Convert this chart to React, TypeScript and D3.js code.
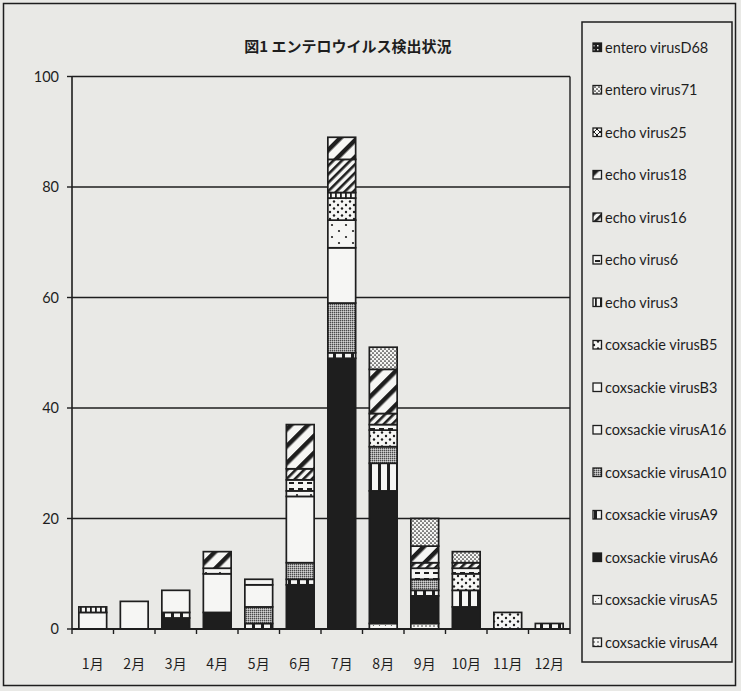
import React from "react";
import * as d3 from "d3";

// 月
const months = ["1月", "2月", "3月", "4月", "5月", "6月", "7月", "8月", "9月", "10月", "11月", "12月"];

// 積み上げ順 (下から)
const seriesNames = [
  "coxsackie virusA4",
  "coxsackie virusA5",
  "coxsackie virusA6",
  "coxsackie virusA9",
  "coxsackie virusA10",
  "coxsackie virusA16",
  "coxsackie virusB3",
  "coxsackie virusB5",
  "echo virus3",
  "echo virus6",
  "echo virus16",
  "echo virus18",
  "echo virus25",
  "entero virus71",
  "entero virusD68",
];

const coxA4 = [0, 0, 0, 0, 0, 0, 0, 0, 1, 0, 0, 0];
const coxA5 = [0, 0, 0, 0, 0, 0, 0, 1, 0, 0, 0, 0];
const coxA6 = [0, 0, 2, 3, 0, 8, 49, 24, 5, 4, 0, 0];
const coxA9 = [0, 0, 1, 0, 1, 1, 1, 5, 1, 3, 0, 1];
const coxA10 = [0, 0, 0, 0, 3, 3, 9, 3, 2, 0, 0, 0];
const coxA16 = [3, 5, 4, 7, 4, 12, 10, 0, 0, 0, 0, 0];
const coxB3 = [0, 0, 0, 1, 0, 1, 5, 0, 0, 0, 0, 0];
const coxB5 = [0, 0, 0, 0, 0, 0, 4, 3, 0, 3, 3, 0];
const echo3 = [1, 0, 0, 0, 0, 0, 1, 0, 0, 0, 0, 0];
const echo6 = [0, 0, 0, 0, 1, 2, 0, 1, 2, 1, 0, 0];
const echo16 = [0, 0, 0, 0, 0, 2, 6, 2, 1, 1, 0, 0];
const echo18 = [0, 0, 0, 3, 0, 8, 4, 8, 3, 0, 0, 0];
const echo25 = [0, 0, 0, 0, 0, 0, 0, 0, 0, 0, 0, 0];
const ev71 = [0, 0, 0, 0, 0, 0, 0, 4, 5, 2, 0, 0];
const evD68 = [0, 0, 0, 0, 0, 0, 0, 0, 0, 0, 0, 0];

const seriesValues = [coxA4, coxA5, coxA6, coxA9, coxA10, coxA16, coxB3, coxB5, echo3, echo6, echo16, echo18, echo25, ev71, evD68];

const yTicks = [0, 20, 40, 60, 80, 100];

const ink = "#1e1e1e";
const paper = "#f6f6f4";
const bg = "#e9e9e6";

// パターン (系列ごと)
function patternFor(i: number) {
  const id = `pat${i}`;
  const base = (w: number, h: number, children: React.ReactNode, rot?: number) => (
    <pattern
      key={id}
      id={id}
      patternUnits="userSpaceOnUse"
      width={w}
      height={h}
      patternTransform={rot ? `rotate(${rot})` : undefined}
    >
      {children}
    </pattern>
  );
  switch (i) {
    case 0:
      return base(4, 4, <>
        <rect width={4} height={4} fill={paper} />
        <circle cx={2} cy={2} r={0.75} fill={ink} />
      </>);
    case 1:
      return base(6, 6, <>
        <rect width={6} height={6} fill={paper} />
        <circle cx={1.5} cy={1.5} r={0.6} fill="#555" />
        <circle cx={4.5} cy={4.5} r={0.6} fill="#555" />
      </>);
    case 2:
      return base(4, 4, <rect width={4} height={4} fill={ink} />);
    case 3:
      return base(9, 10, <>
        <rect width={9} height={10} fill={paper} />
        <rect x={0} width={3} height={10} fill={ink} />
      </>);
    case 4:
      return base(2, 2, <>
        <rect width={2} height={2} fill="#a2a2a2" />
        <rect width={1} height={1} fill="#4a4a4a" />
        <rect x={1} y={1} width={1} height={1} fill="#d2d2d2" />
      </>);
    case 5:
      return base(4, 4, <rect width={4} height={4} fill={paper} />);
    case 6:
      return base(14, 12, <>
        <rect width={14} height={12} fill={paper} />
        <circle cx={3} cy={3} r={1.1} fill={ink} />
        <circle cx={10} cy={9} r={1.1} fill={ink} />
      </>);
    case 7:
      return base(8, 7, <>
        <rect width={8} height={7} fill={paper} />
        <circle cx={2} cy={2} r={1.2} fill={ink} />
        <circle cx={6} cy={5.5} r={1.2} fill={ink} />
      </>);
    case 8:
      return base(5, 5, <>
        <rect width={5} height={5} fill={paper} />
        <rect width={1.8} height={5} fill={ink} />
      </>);
    case 9:
      return base(9, 6, <>
        <rect width={9} height={6} fill={paper} />
        <rect x={1} y={2} width={5} height={2} fill={ink} />
      </>);
    case 10:
      return base(6, 6, <>
        <rect width={6} height={6} fill={paper} />
        <rect width={2.6} height={6} fill={ink} />
      </>, 45);
    case 11:
      return base(12, 12, <>
        <rect width={12} height={12} fill={paper} />
        <rect width={4.5} height={12} fill={ink} />
      </>, 45);
    case 12:
      return base(6, 6, <>
        <rect width={6} height={6} fill={paper} />
        <path d="M0,0L6,6M6,0L0,6" stroke={ink} strokeWidth={1} />
      </>);
    case 13:
      return base(4, 4, <>
        <rect width={4} height={4} fill={paper} />
        <circle cx={1} cy={1} r={0.85} fill={ink} />
        <circle cx={3} cy={3} r={0.85} fill={ink} />
      </>);
    default:
      return base(4, 4, <>
        <rect width={4} height={4} fill={ink} />
        <rect x={1} y={1} width={1.5} height={1.5} fill={paper} />
      </>);
  }
}

export default function App() {
  const width = 741;
  const height = 691;
  const plot = { left: 72, right: 570, top: 76.5, bottom: 629 };

  const rows = months.map((m, i) => {
    const r: Record<string, any> = { month: m };
    seriesNames.forEach((s, k) => (r[s] = seriesValues[k][i]));
    return r;
  });

  const stacked = d3.stack<Record<string, any>>().keys(seriesNames)(rows);

  const x = d3.scaleBand<string>().domain(months).range([plot.left, plot.right]).paddingInner(0.33).paddingOuter(0.165);
  const xb = d3.scaleBand<string>().domain(months).range([plot.left, plot.right]);
  const y = d3.scaleLinear().domain([0, 100]).range([plot.bottom, plot.top]);

  const legendTop = 47.5;
  const legendStep = 42.5;
  const legendOrder = [...seriesNames].reverse();

  return (
    <svg
      width={width}
      height={height}
      style={{ position: "fixed", left: 0, top: 0 }}
      fontFamily="Lato, 'Liberation Sans', sans-serif"
    >
      <defs>{seriesNames.map((_, i) => patternFor(i))}</defs>
      <rect width={width} height={height} fill={bg} />
      <rect x={3.5} y={3.5} width={732} height={682} fill="none" stroke={ink} strokeWidth={1.5} />

      {/* タイトル */}
      <text
        x={348}
        y={52}
        textAnchor="middle"
        fontFamily="'Noto Sans CJK JP', sans-serif"
        fontWeight="bold"
        fontSize={15}
        fill={ink}
      >
        図1  エンテロウイルス検出状況
      </text>

      {/* グリッド */}
      {yTicks.filter((t) => t > 0).map((t) => (
        <line key={t} x1={plot.left} x2={plot.right} y1={y(t)} y2={y(t)} stroke={ink} strokeWidth={1.6} />
      ))}
      <line x1={plot.right} x2={plot.right} y1={y(100)} y2={plot.bottom} stroke={ink} strokeWidth={1.4} />

      {/* 棒 */}
      {stacked.map((layer, k) => (
        <g key={layer.key}>
          {layer.map((d, i) =>
            d[1] - d[0] > 0 ? (
              <rect
                key={i}
                x={x(months[i]) ?? 0}
                y={y(d[1])}
                width={x.bandwidth()}
                height={y(d[0]) - y(d[1])}
                fill={`url(#pat${k})`}
                stroke={ink}
                strokeWidth={1.7}
              />
            ) : null
          )}
        </g>
      ))}

      {/* Y軸 */}
      <line x1={plot.left} x2={plot.left} y1={y(100)} y2={plot.bottom} stroke={ink} strokeWidth={1.6} />
      {yTicks.map((t) => (
        <g key={t}>
          <line x1={plot.left - 5} x2={plot.left} y1={y(t)} y2={y(t)} stroke={ink} strokeWidth={1.4} />
          <text x={59} y={y(t) + 5} textAnchor="end" fontSize={14.5} fill={ink}>
            {t}
          </text>
        </g>
      ))}

      {/* X軸 */}
      <line x1={plot.left} x2={plot.right} y1={plot.bottom} y2={plot.bottom} stroke={ink} strokeWidth={1.8} />
      {months.map((m) => (
        <line
          key={m}
          x1={xb(m) ?? 0}
          x2={xb(m) ?? 0}
          y1={plot.bottom}
          y2={plot.bottom + 5}
          stroke={ink}
          strokeWidth={1.4}
        />
      ))}
      <line x1={plot.right} x2={plot.right} y1={plot.bottom} y2={plot.bottom + 5} stroke={ink} strokeWidth={1.4} />
      {months.map((m) => (
        <text
          key={m}
          x={(xb(m) ?? 0) + xb.bandwidth() / 2}
          y={669}
          textAnchor="middle"
          fontFamily="'Noto Sans CJK JP', sans-serif"
          fontSize={14}
          fill={ink}
        >
          {m}
        </text>
      ))}

      {/* 凡例 */}
      <rect x={582} y={22} width={150} height={640} fill="none" stroke={ink} strokeWidth={1.5} />
      {legendOrder.map((s, j) => {
        const k = seriesNames.indexOf(s);
        const cy = legendTop + j * legendStep;
        return (
          <g key={s}>
            <rect x={593} y={cy - 4.5} width={8.5} height={8.5} fill={`url(#pat${k})`} stroke={ink} strokeWidth={1.3} />
            <text x={605} y={cy + 5} fontSize={14.5} fill={ink}>
              {s}
            </text>
          </g>
        );
      })}
    </svg>
  );
}
